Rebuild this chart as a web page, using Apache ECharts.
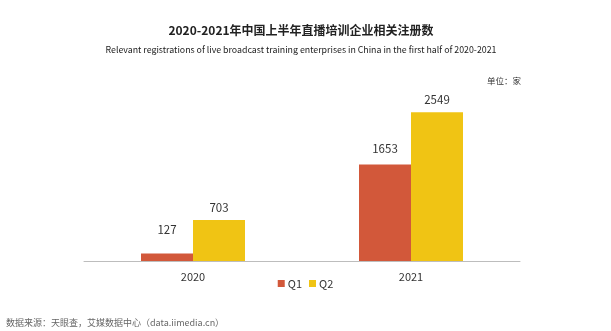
<!DOCTYPE html>
<html><head><meta charset="utf-8">
<script src="https://cdn.jsdelivr.net/npm/echarts@6/dist/echarts.min.js"></script>
<style>html,body{margin:0;padding:0;background:#fff}#c{width:611px;height:331px}</style>
</head><body><div id="c"></div>
<script>
const categories = ['2020', '2021'];
const q1 = [127, 1653];
const q2 = [703, 2549];
const seriesNames = ['Q1', 'Q2'];
const font = '"Noto Sans CJK SC","Noto Sans",sans-serif';
const chart = echarts.init(document.getElementById('c'));
chart.setOption({
  backgroundColor: '#fff',
  animation: false,
  textStyle: { fontFamily: font },
  title: [
    { text: '2020-2021年中国上半年直播培训企业相关注册数', left: 296, textAlign: 'center', top: 19,
      textStyle: { fontSize: 12, fontWeight: 'bold', color: '#222', fontFamily: font } },
    { text: 'Relevant registrations of live broadcast training enterprises in China in the first half of 2020-2021', left: 296, textAlign: 'center', top: 40,
      textStyle: { fontSize: 8.8, fontWeight: 'normal', color: '#222', fontFamily: font } },
    { text: '单位：家', left: 482, top: 72,
      textStyle: { fontSize: 8.5, fontWeight: 'normal', color: '#333', fontFamily: font } },
    { text: '数据来源：天眼查，艾媒数据中心（data.iimedia.cn）', left: 1, top: 313,
      textStyle: { fontSize: 9, fontWeight: 'normal', color: '#666', fontFamily: font } }
  ],
  legend: { data: seriesNames, bottom: 37, left: 'center', itemWidth: 7, itemHeight: 7, itemGap: 7,
    textStyle: { fontSize: 11, color: '#333', padding: [0, 0, 0, -2] }, icon: 'rect' },
  grid: { left: 84, width: 436, top: 86, bottom: 70 },
  xAxis: { type: 'category', data: categories,
    axisLine: { lineStyle: { color: '#bdbdbd' } }, axisTick: { show: false },
    axisLabel: { fontSize: 11, color: '#333', margin: 10 } },
  yAxis: { type: 'value', min: 0, max: 3000, show: false, splitLine: { show: false } },
  series: [
    { name: 'Q1', type: 'bar', data: q1.map((v, i) => i === 0 ? { value: v, label: { offset: [0, -8] } } : v),
      barWidth: 52, barGap: '0%', itemStyle: { color: '#D2583A' },
      label: { show: true, position: 'top', distance: 10, fontSize: 11.5, color: '#333' } },
    { name: 'Q2', type: 'bar', data: q2, barWidth: 52, itemStyle: { color: '#F0C414' },
      label: { show: true, position: 'top', distance: 7, fontSize: 11.5, color: '#333' } }
  ]
});
</script></body></html>
